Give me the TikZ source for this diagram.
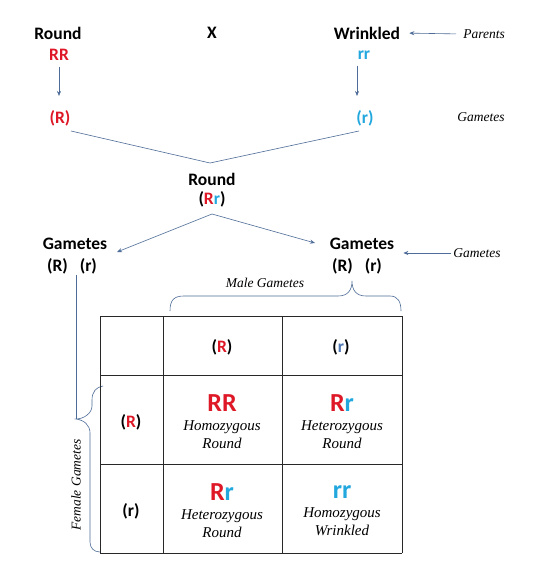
\documentclass[tikz,border=0pt]{standalone}
\usepackage{fontspec}
\newfontfamily\labelFont{Carlito}
\newfontfamily\noteFont{Liberation Serif}
\usetikzlibrary{positioning, arrows.meta}
\definecolor{alleleRed}{RGB}{222,24,38}
\definecolor{alleleCyan}{RGB}{35,168,222}
\definecolor{alleleBlue}{RGB}{78,118,178}
\definecolor{linkColor}{RGB}{78,108,152}
\definecolor{gridColor}{RGB}{40,40,40}
\tikzstyle{sheet} = [x = 1pt, y = -1pt]
\tikzstyle{boldText} = [font=\labelFont\bfseries\fontsize{17.5}{20}\selectfont, inner sep = 1pt]
\tikzstyle{bigText} = [font=\labelFont\bfseries\fontsize{26}{28}\selectfont, inner sep = 1pt]
\tikzstyle{noteText} = [font=\noteFont\itshape\fontsize{13.5}{15}\selectfont, inner sep = 1pt]
\tikzstyle{cellText} = [font=\noteFont\itshape\fontsize{15}{18}\selectfont, align=center, inner sep = 1pt]
\tikzstyle{link} = [color=linkColor, line width=.6pt]
\tikzstyle{arrowLink} = [link, -{Stealth[length=5pt, width=4pt]}]
\tikzstyle{braceLine} = [color=linkColor, line width=.6pt]
\tikzstyle{gridLine} = [color=gridColor, line width=1pt]
\newcommand{\alleleR}{\textcolor{alleleRed}{R}}
\newcommand{\alleler}{\textcolor{alleleCyan}{r}}
\newcommand{\punnettCell}[6]{
  \node [bigText] (#1) at (#2,#3) {#4};
  \node [cellText, below=7pt of #1] (#1Text) {#5\\#6};
}

\begin{document}
\begin{tikzpicture}[sheet]
  \useasboundingbox [fill=white] (0,0) rectangle (534,572);
  % parents
  \node [boldText] (roundParent) at (58,33) {Round};
  \node [boldText] (cross) at (212,33) {X};
  \node [boldText] (wrinkledParent) at (367,33) {Wrinkled};
  \node [noteText] (parentsLabel) at (484,34) {Parents};
  \draw [arrowLink, shorten <= 6pt, shorten >= 8pt] (parentsLabel.west) -- (wrinkledParent.east);
  \node [boldText, text=alleleRed] (genoRR) at (59,55) {RR};
  \node [boldText, text=alleleCyan] (genorr) at (364,55) {rr};
  % parent gametes
  \node [boldText, text=alleleRed] (gameteR) at (60,118) {(R)};
  \node [boldText, text=alleleCyan] (gameter) at (365,118) {(r)};
  \node [noteText] (gametesLabel) at (481,117) {Gametes};
  \draw [arrowLink, shorten <= 5pt, shorten >= 13pt] (genoRR.south) -- (genoRR.south |- gameteR.north);
  \draw [arrowLink, shorten <= 5pt, shorten >= 13pt] ([xshift=-7pt]genorr.south) -- ([xshift=-7pt]genorr.south |- gameter.north);
  % first generation
  \coordinate (join) at (210,163);
  \draw [link] (71,131) -- (join) -- (359,131);
  \node [boldText] (firstRound) at (212,179) {Round};
  \node [boldText] (firstGeno) at (212,199) {(\alleleR\alleler)};
  \coordinate (split) at (212,214);
  \node [boldText] (leftGametes) at (75,244) {Gametes};
  \node [boldText] (leftAlleles) at (72,266) {(R)\hspace{12pt}(r)};
  \node [boldText] (rightGametes) at (362,244) {Gametes};
  \node [boldText] (rightAlleles) at (357,266) {(R)\hspace{12pt}(r)};
  \node [noteText] (rightLabel) at (477,253) {Gametes};
  \coordinate (leftTip) at (117,252);
  \coordinate (rightTip) at (315,243);
  \draw [arrowLink] (split) -- (leftTip);
  \draw [arrowLink] (split) -- (rightTip);
  \draw [arrowLink, shorten <= 1pt, shorten >= 8pt] (rightLabel.west) -- (rightGametes.east |- rightLabel.west);
  % male gametes brace
  \node [noteText] (maleLabel) at (265,283) {Male Gametes};
  \draw [braceLine] (170,311) .. controls (170,300) and (174,296) .. (184,296) -- (338,296)
    .. controls (348,296) and (352,290) .. (352,281)
    .. controls (352,290) and (356,296) .. (366,296) -- (390,296)
    .. controls (398,296) and (401,302) .. (401,311);
  % female gametes brace
  \coordinate (femaleTip) at (76,419);
  \draw [link] (femaleTip |- leftAlleles.south) -- (femaleTip);
  \draw [braceLine] (103,386) .. controls (96,387) and (92,392) .. (92,400) -- (92,406)
    .. controls (92,413) and (84,419) .. (femaleTip)
    .. controls (84,420) and (90,425) .. (90,433) -- (90,542)
    .. controls (90,548) and (94,552) .. (100,552);
  \node [noteText, rotate=90] (femaleLabel) at (76,485) {Female Gametes};
  % punnett square
  \foreach \col in {100,163,282,402} {
    \draw [gridLine] (\col,316) -- (\col,553);
  }
  \foreach \row in {316,375,464,553} {
    \draw [gridLine] (100,\row) -- (402,\row);
  }
  \node [boldText] (maleR) at (222,347) {(\alleleR)};
  \node [boldText] (maler) at (341,347) {(\textcolor{alleleBlue}{r})};
  \node [boldText] (femaleR) at (131,422) {(\alleleR)};
  \node [boldText] (femaler) at (131,511) {(r)};
  \punnettCell{cellRR}{222}{403}{\alleleR\alleleR}{Homozygous}{Round}
  \punnettCell{cellRr}{342}{403}{\alleleR\alleler}{Heterozygous}{Round}
  \punnettCell{cellrR}{222}{492}{\alleleR\alleler}{Heterozygous}{Round}
  \punnettCell{cellrr}{342}{492}{\alleler\alleler}{Homozygous}{Wrinkled}
\end{tikzpicture}
\end{document}
